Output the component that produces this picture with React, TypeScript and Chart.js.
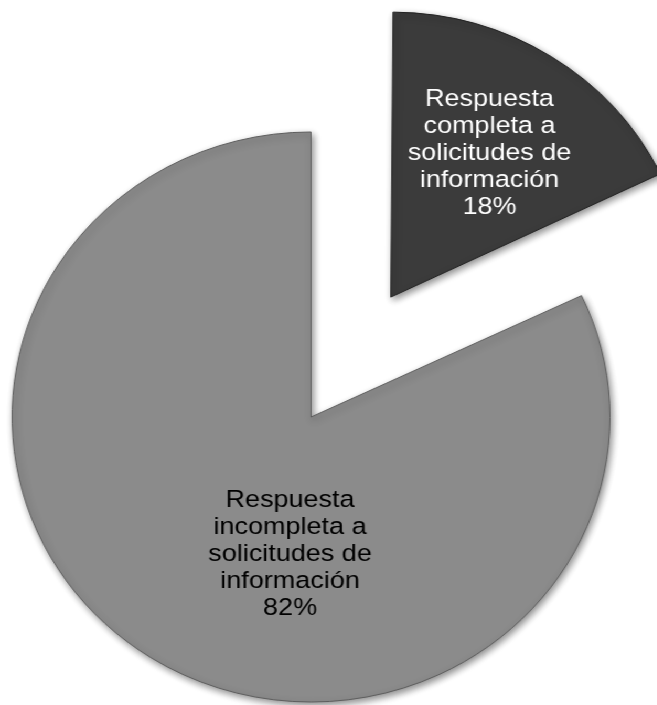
import React, { useEffect, useRef } from "react";
import { Chart, registerables } from "chart.js";

Chart.register(...registerables);

// Category labels (line-broken as in the original)
const categories: string[][] = [
  ["Respuesta", "completa a", "solicitudes de", "información"],
  ["Respuesta", "incompleta a", "solicitudes de", "información"],
];
// Slice values (percent)
const values: number[] = [18, 82];

const sliceColors = ["#3b3b3b", "#8b8b8b"];
const sliceBorders = ["#222222", "#5e5e5e"];
const labelColors = ["#ffffff", "#000000"];
const explodeOffsets = [568, 0];

const CANVAS_W = 626;
const CANVAS_H = 705;
const STRETCH_X = 1.049;

const radiusFix = {
  id: "radiusFix",
  afterDatasetUpdate(chart: any, args: any) {
    const meta = chart.getDatasetMeta(args.index);
    const base = (meta.controller as any).outerRadius;
    meta.data.forEach((el: any) => {
      const off = ((el.options && el.options.offset) || 0) / 4;
      const fix = 1 - Math.sin(Math.min(Math.PI, el.circumference || 0));
      el.outerRadius = base - off * fix;
    });
  },
};

const shadowPlugin = {
  id: "softShadow",
  beforeDatasetsDraw(chart: any) {
    const ctx = chart.ctx;
    ctx.save();
    ctx.shadowColor = "rgba(0,0,0,0.45)";
    ctx.shadowBlur = 7;
    ctx.shadowOffsetX = 2;
    ctx.shadowOffsetY = 3;
  },
  afterDatasetsDraw(chart: any) {
    chart.ctx.restore();
  },
};

const sliceLabels = {
  id: "sliceLabels",
  afterDraw(chart: any, _args: any, opts: any) {
    const ctx = chart.ctx;
    const meta = chart.getDatasetMeta(0);
    const data = chart.data.datasets[0].data as number[];
    const total = data.reduce((a, b) => a + b, 0);
    meta.data.forEach((el: any, i: number) => {
      const off = ((el.options && el.options.offset) || 0) / 4;
      const mid = (el.startAngle + el.endAngle) / 2;
      const cx = el.x + Math.cos(mid) * off;
      const cy = el.y + Math.sin(mid) * off;
      const p = opts.placement[i];
      const a = mid + (p.shift * Math.PI) / 180;
      const d = el.outerRadius * p.frac;
      const x = cx + Math.cos(a) * d;
      const y = cy + Math.sin(a) * d;
      const lines = [
        ...(chart.data.labels[i] as string[]),
        Math.round((data[i] / total) * 100) + "%",
      ];
      ctx.save();
      ctx.translate(x, y);
      ctx.scale(opts.textScaleX, 1);
      ctx.font = `${opts.fontSize}px "Liberation Sans", Arial, sans-serif`;
      ctx.fillStyle = opts.colors[i];
      ctx.textAlign = "center";
      ctx.textBaseline = "middle";
      lines.forEach((ln, k) => {
        ctx.fillText(ln, 0, (k - (lines.length - 1) / 2) * opts.lineHeight);
      });
      ctx.restore();
    });
  },
};

export default function App() {
  const ref = useRef<HTMLCanvasElement>(null);
  useEffect(() => {
    const chart = new Chart(ref.current!, {
      type: "pie",
      data: {
        labels: categories as any,
        datasets: [
          {
            data: values,
            backgroundColor: sliceColors,
            borderColor: sliceBorders,
            borderWidth: 1,
            offset: explodeOffsets,
            clip: false as any,
          } as any,
        ],
      },
      options: {
        animation: false,
        responsive: false,
        radius: 285,
        layout: { padding: { left: 0, right: 33, top: 129, bottom: 0 } },
        plugins: {
          legend: { display: false },
          tooltip: { enabled: false },
          sliceLabels: {
            fontSize: 24.5,
            textScaleX: 1.05,
            lineHeight: 27,
            colors: labelColors,
            placement: [
              { shift: 0.8, frac: 0.633 },
              { shift: -24.1, frac: 0.486 },
            ],
          },
        } as any,
      },
      plugins: [radiusFix, shadowPlugin, sliceLabels],
    });
    return () => chart.destroy();
  }, []);
  return (
    <div
      style={{
        position: "absolute",
        left: 0,
        top: 0,
        width: CANVAS_W,
        height: CANVAS_H,
        transform: `scaleX(${STRETCH_X})`,
        transformOrigin: "0 0",
        background: "#ffffff",
      }}
    >
      <canvas ref={ref} width={CANVAS_W} height={CANVAS_H} />
    </div>
  );
}
